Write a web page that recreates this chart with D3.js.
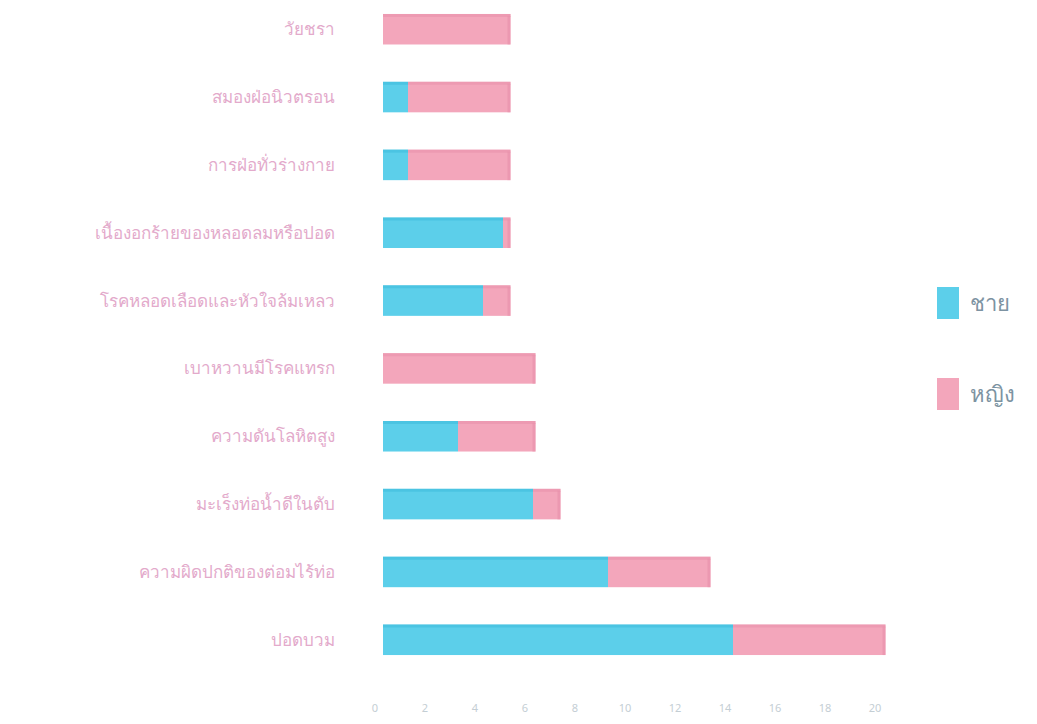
<!DOCTYPE html>
<html>
<head>
<meta charset="utf-8">
<script src="https://cdn.jsdelivr.net/npm/d3@7.9.0/dist/d3.min.js"></script>
<style>
  body { margin: 0; background: #fff; }
  svg { font-family: "Noto Sans", "DejaVu Sans", sans-serif; }
</style>
</head>
<body>
<svg width="1037" height="724"></svg>
<script>
// categories top to bottom
const causes = [
  'วัยชรา',
  'สมองฝ่อนิวตรอน',
  'การฝ่อทั่วร่างกาย',
  'เนื้องอกร้ายของหลอดลมหรือปอด',
  'โรคหลอดเลือดและหัวใจล้มเหลว',
  'เบาหวานมีโรคแทรก',
  'ความดันโลหิตสูง',
  'มะเร็งท่อน้ำดีในตับ',
  'ความผิดปกติของต่อมไร้ท่อ',
  'ปอดบวม'
];
const male   = [0, 1, 1, 4.8, 4, 0, 3, 6, 9, 14];
const female = [5.1, 4.1, 4.1, 0.3, 1.1, 6.1, 3.1, 1.1, 4.1, 6.1];
const seriesNames = ['ชาย', 'หญิง'];
const ticks = [0, 2, 4, 6, 8, 10, 12, 14, 16, 18, 20];

const colors = ['#5ccfea', '#f3a6bb'];
const edges  = ['#3bbbdc', '#e890aa'];

let svg = d3.select('svg');

let x = d3.scaleLinear().domain([0, 20]).range([383, 883]);
let y = d3.scaleBand().domain(causes).range([-3, 672]).paddingInner(0.55).paddingOuter(0.25);

let rows = causes.map((c, i) => ({ cause: c, 'ชาย': male[i], 'หญิง': female[i] }));
let stacked = d3.stack().keys(seriesNames)(rows);

// bars
stacked.forEach((layer, k) => {
  let g = svg.append('g');
  g.selectAll('rect')
    .data(layer)
    .join('rect')
    .attr('x', d => x(d[0]))
    .attr('y', d => y(d.data.cause))
    .attr('width', d => Math.max(0, x(d[1]) - x(d[0])))
    .attr('height', y.bandwidth())
    .attr('fill', colors[k]);
  // top shading for a slight 3d look
  g.selectAll('line')
    .data(layer.filter(d => d[1] > d[0]))
    .join('line')
    .attr('x1', d => x(d[0]))
    .attr('x2', d => x(d[1]))
    .attr('y1', d => y(d.data.cause) + 1.5)
    .attr('y2', d => y(d.data.cause) + 1.5)
    .attr('stroke', edges[k])
    .attr('stroke-width', 3)
    .attr('opacity', 0.5);
});

// right end caps
rows.forEach(r => {
  let total = r['ชาย'] + r['หญิง'];
  let k = r['หญิง'] > 0 ? 1 : 0;
  svg.append('rect')
    .attr('x', x(total) - 3)
    .attr('y', y(r.cause) + 2)
    .attr('width', 3)
    .attr('height', y.bandwidth() - 2)
    .attr('fill', edges[k])
    .attr('opacity', 0.6);
});

// category labels
svg.append('g')
  .selectAll('text')
  .data(causes)
  .join('text')
  .attr('x', 335)
  .attr('y', d => y(d) + y.bandwidth() / 2)
  .attr('dy', '0.35em')
  .attr('text-anchor', 'end')
  .attr('font-size', 17)
  .attr('font-weight', 300)
  .attr('fill', '#e3aacb')
  .text(d => d);

// x tick labels
svg.append('g')
  .selectAll('text')
  .data(ticks)
  .join('text')
  .attr('x', d => x(d) - 8)
  .attr('y', 712)
  .attr('text-anchor', 'middle')
  .attr('font-size', 11)
  .attr('fill', '#c4ced4')
  .text(d => d);

// legend
let legend = svg.append('g');
seriesNames.forEach((s, i) => {
  let ly = 287 + i * 91;
  legend.append('rect')
    .attr('x', 937).attr('y', ly)
    .attr('width', 22).attr('height', 32)
    .attr('fill', colors[i]);
  legend.append('text')
    .attr('x', 970).attr('y', ly + 16)
    .attr('dy', '0.35em')
    .attr('font-size', 22)
    .attr('font-weight', 300)
    .attr('fill', '#7d93a2')
    .text(s);
});
</script>
</body>
</html>
